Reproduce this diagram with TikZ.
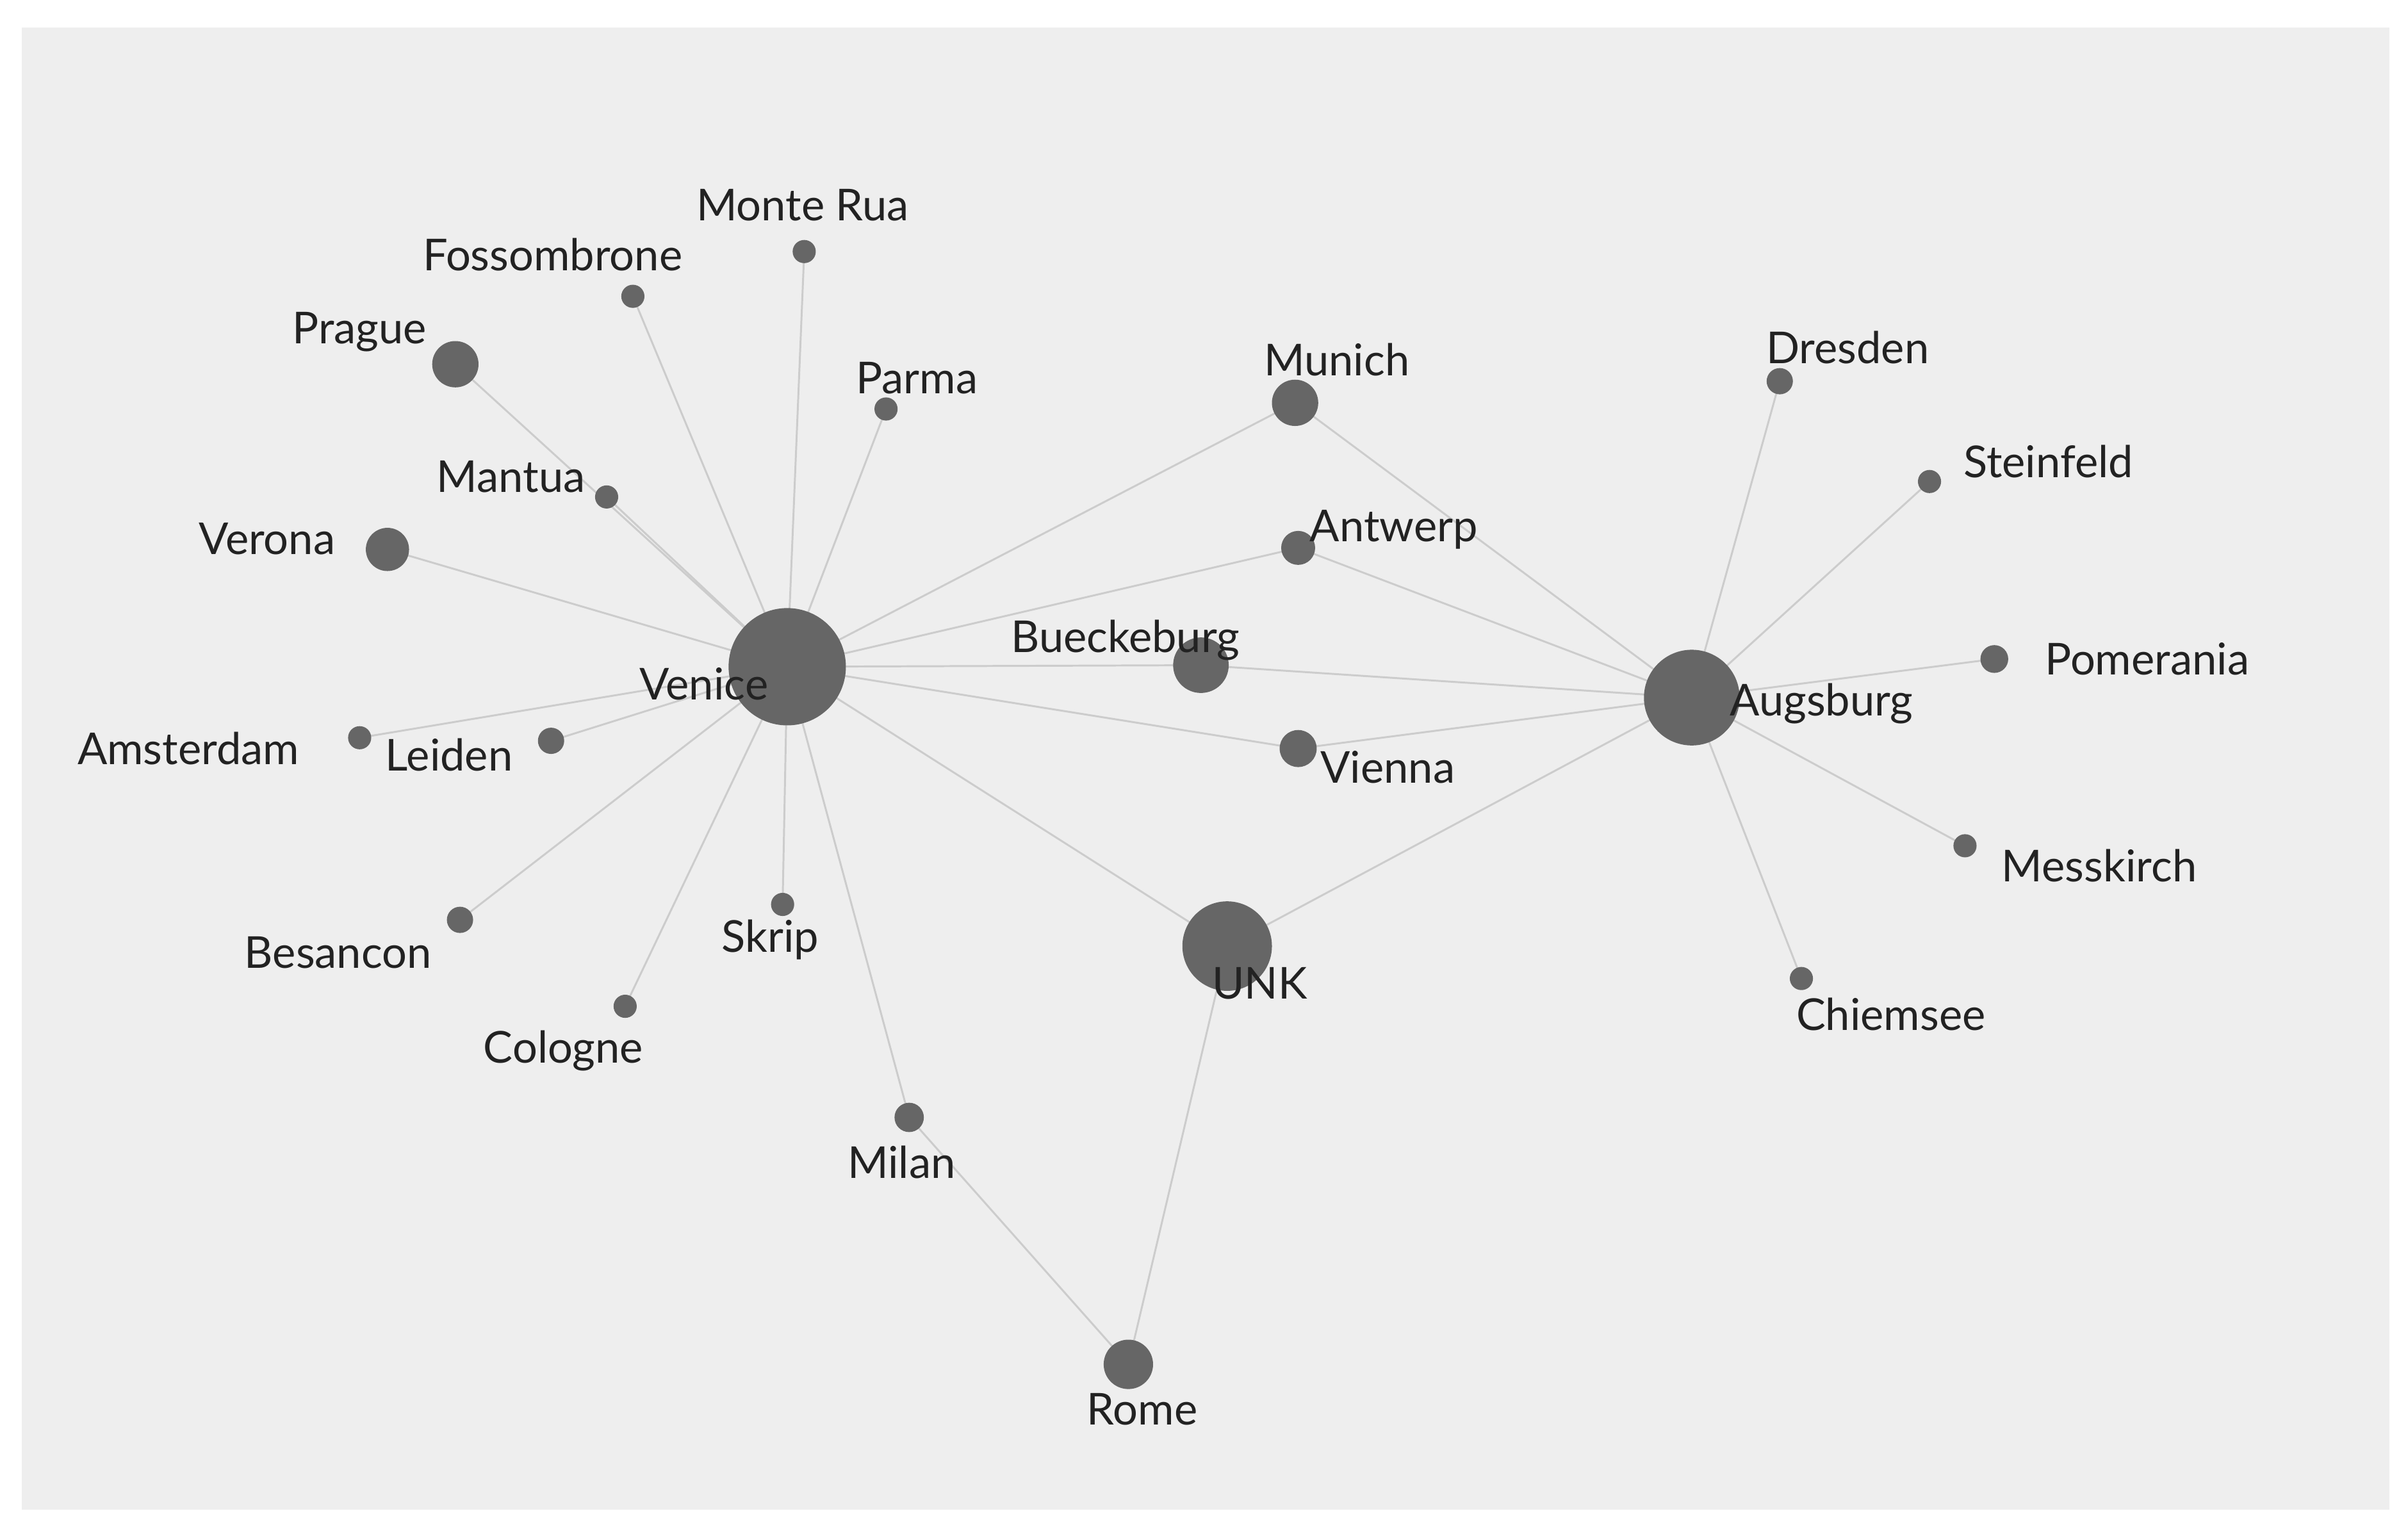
\documentclass[tikz,border=0pt]{standalone}
\usepackage{fontspec}
\setmainfont{Lato}
\definecolor{panel}{HTML}{EEEEEE}
\definecolor{dot}{HTML}{666666}
\definecolor{edge}{HTML}{CCCCCC}
\definecolor{txt}{HTML}{222222}
\tikzset{
  pt/.style={circle,fill=dot,inner sep=0pt,minimum size=#1*0.01cm},
  lbl/.style={text=txt,font=\fontsize{8.1}{10}\selectfont,inner sep=0pt},
  ed/.style={draw=edge,line width=0.35pt}
}
\begin{document}
\begin{tikzpicture}[x=0.01cm,y=-0.01cm]
\useasboundingbox (0,0) rectangle (1560,989);
\fill[white] (0,0) rectangle (1560,989);
\fill[panel] (14,18) rectangle (1548,978);
% positions
\coordinate (venice) at (510,432);
\coordinate (augsburg) at (1096,452);
\coordinate (unk) at (795,613);
\coordinate (bueckeburg) at (778,431);
\coordinate (rome) at (731,884);
\coordinate (munich) at (839,261);
\coordinate (prague) at (295,236);
\coordinate (verona) at (251,356);
\coordinate (antwerp) at (841,355);
\coordinate (vienna) at (841,485);
\coordinate (dresden) at (1153,247);
\coordinate (steinfeld) at (1250,312);
\coordinate (pomerania) at (1292,427);
\coordinate (messkirch) at (1273,548);
\coordinate (chiemsee) at (1167,634);
\coordinate (monterua) at (521,163);
\coordinate (fossombrone) at (410,192);
\coordinate (parma) at (574,265);
\coordinate (mantua) at (393,322);
\coordinate (amsterdam) at (233,478);
\coordinate (leiden) at (357,480);
\coordinate (besancon) at (298,596);
\coordinate (cologne) at (405,652);
\coordinate (skrip) at (507,586);
\coordinate (milan) at (589,724);
% edges
\foreach \t in {monterua,fossombrone,parma,mantua,prague,verona,amsterdam,leiden,besancon,cologne,skrip,milan,munich,antwerp,bueckeburg,vienna,unk}
  \draw[ed] (venice) -- (\t);
\foreach \t in {munich,antwerp,bueckeburg,vienna,unk,dresden,steinfeld,pomerania,messkirch,chiemsee}
  \draw[ed] (augsburg) -- (\t);
\draw[ed] (unk) -- (rome);
\draw[ed] (milan) -- (rome);
% nodes
\node[pt=76] (nvenice) at (venice) {};
\node[pt=62] (naugsburg) at (augsburg) {};
\node[pt=58] (nunk) at (unk) {};
\node[pt=36] (nbueckeburg) at (bueckeburg) {};
\node[pt=32] (nrome) at (rome) {};
\node[pt=30] (nmunich) at (munich) {};
\node[pt=30] (nprague) at (prague) {};
\node[pt=28] (nverona) at (verona) {};
\node[pt=22] (nantwerp) at (antwerp) {};
\node[pt=24] (nvienna) at (vienna) {};
\node[pt=17] (ndresden) at (dresden) {};
\node[pt=15] (nsteinfeld) at (steinfeld) {};
\node[pt=18] (npomerania) at (pomerania) {};
\node[pt=15] (nmesskirch) at (messkirch) {};
\node[pt=15] (nchiemsee) at (chiemsee) {};
\node[pt=15] (nmonterua) at (monterua) {};
\node[pt=15] (nfossombrone) at (fossombrone) {};
\node[pt=15] (nparma) at (parma) {};
\node[pt=15] (nmantua) at (mantua) {};
\node[pt=15] (namsterdam) at (amsterdam) {};
\node[pt=17] (nleiden) at (leiden) {};
\node[pt=17] (nbesancon) at (besancon) {};
\node[pt=15] (ncologne) at (cologne) {};
\node[pt=15] (nskrip) at (skrip) {};
\node[pt=19] (nmilan) at (milan) {};
% labels
\node[lbl] (l1) at (520,133) {Monte Rua};
\node[lbl] (l2) at (358,165) {Fossombrone};
\node[lbl] (l3) at (233,215) {Prague};
\node[lbl] (l4) at (594,245) {Parma};
\node[lbl] (l5) at (866,233) {Munich};
\node[lbl] (l6) at (1197,225) {Dresden};
\node[lbl] (l7) at (1327,299) {Steinfeld};
\node[lbl] (l8) at (331,309) {Mantua};
\node[lbl] (l9) at (173,349) {Verona};
\node[lbl] (l10) at (903,343) {Antwerp};
\node[lbl] (l11) at (729,415) {Bueckeburg};
\node[lbl] (l12) at (456,443) {Venice};
\node[lbl] (l13) at (1391,427) {Pomerania};
\node[lbl] (l14) at (1180,456) {Augsburg};
\node[lbl] (l15) at (122,485) {Amsterdam};
\node[lbl] (l16) at (291,489) {Leiden};
\node[lbl] (l17) at (899,497) {Vienna};
\node[lbl] (l18) at (1360,561) {Messkirch};
\node[lbl] (l19) at (219,617) {Besancon};
\node[lbl] (l20) at (499,609) {Skrip};
\node[lbl] (l21) at (816,637) {UNK};
\node[lbl] (l22) at (1225,657) {Chiemsee};
\node[lbl] (l23) at (365,681) {Cologne};
\node[lbl] (l24) at (584,753) {Milan};
\node[lbl] (l25) at (740,913) {Rome};
\end{tikzpicture}
\end{document}
